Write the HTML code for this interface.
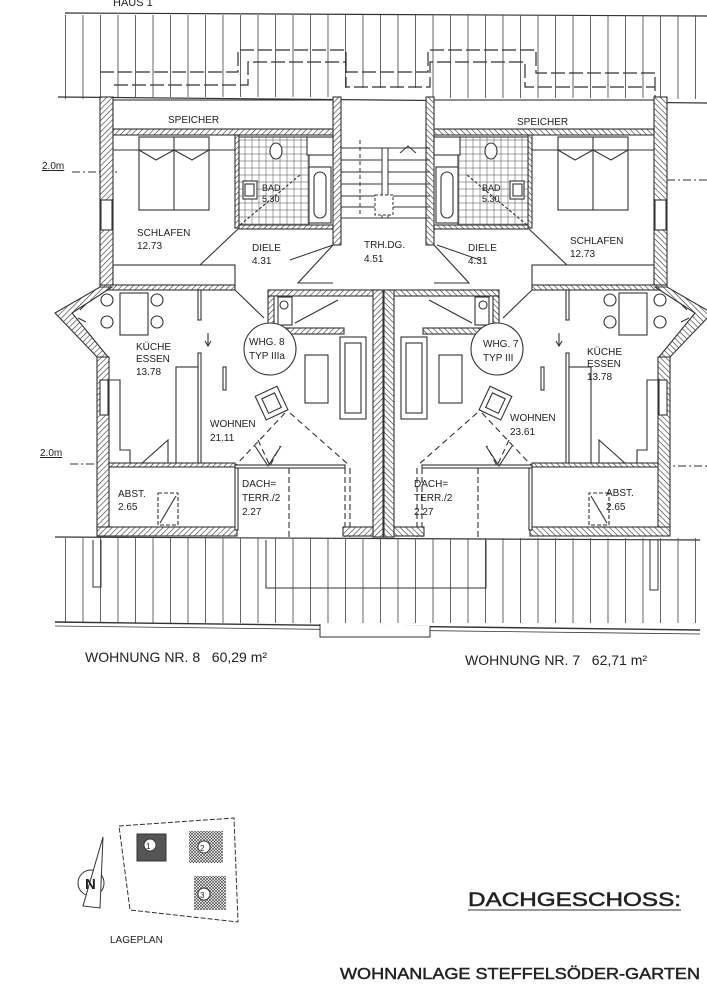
<!DOCTYPE html>
<html><head><meta charset="utf-8"><style>
html,body{margin:0;padding:0;background:#fff}
svg{display:block}
text{font-family:"Liberation Sans",sans-serif;fill:#222}
.l{font-size:10px}
</style></head><body>
<svg width="707" height="1000" viewBox="0 0 707 1000" xmlns="http://www.w3.org/2000/svg">
<defs>
<pattern id="h" width="4" height="4" patternUnits="userSpaceOnUse" patternTransform="rotate(45)"><rect width="4" height="4" fill="#fff"/><line x1="0" y1="0" x2="0" y2="4" stroke="#333" stroke-width="1.2"/></pattern>
<pattern id="v" width="17.5" height="10" patternUnits="userSpaceOnUse" x="65"><line x1="0.5" y1="0" x2="0.5" y2="10" stroke="#555" stroke-width="0.9"/></pattern>
<pattern id="g" width="7" height="7" patternUnits="userSpaceOnUse"><rect width="7" height="7" fill="#fff" stroke="#666" stroke-width="0.6"/></pattern>
<pattern id="x" width="3" height="3" patternUnits="userSpaceOnUse"><rect width="3" height="3" fill="#fff"/><path d="M0 0L3 3M3 0L0 3" stroke="#333" stroke-width="0.6"/></pattern>
</defs>
<text x="113" y="6" font-size="11">HAUS 1</text>
<line x1="65" y1="13" x2="707" y2="16" stroke="#333" stroke-width="1.2"/>
<rect x="65" y="15" width="642" height="84" fill="url(#v)"/>
<polygon points="100,97 335,97 335,88 430,88 430,98 660,98 660,140 707,140 707,150 100,150" fill="#fff"/>
<line x1="58" y1="97" x2="707" y2="103" stroke="#333" stroke-width="1.2"/>
<g fill="none" stroke="#333" stroke-width="1.2" stroke-dasharray="14,4">
<path d="M100 72H238V50H346V72H428V50H536V73H655V97"/>
<path d="M114 85H248V62H346V87H430V62H525V87H655"/>
</g>
<text x="42" y="169" class="l" font-size="9" text-decoration="underline">2.0m</text>
<line x1="72" y1="172" x2="120" y2="172" stroke="#333" stroke-dasharray="8,3,2,3"/>
<line x1="667" y1="180" x2="707" y2="180" stroke="#333" stroke-dasharray="8,3,2,3"/>
<text x="40" y="456" class="l" font-size="9" text-decoration="underline">2.0m</text>
<line x1="70" y1="464" x2="100" y2="464" stroke="#333" stroke-dasharray="8,3,2,3"/>
<line x1="662" y1="466" x2="707" y2="466" stroke="#333" stroke-dasharray="8,3,2,3"/>

<g id="U" stroke="#333" stroke-width="1.1">
<rect x="100" y="97" width="13" height="190" fill="url(#h)"/>
<rect x="113" y="129" width="222" height="6" fill="url(#h)"/>
<rect x="113" y="100" width="222" height="29" fill="#fff"/>
<rect x="333" y="97" width="8" height="148" fill="url(#h)"/>
<rect x="101" y="200" width="11" height="30" fill="#fff"/>
<rect x="235" y="135" width="4" height="93" fill="url(#h)"/>
<rect x="239" y="137" width="70" height="88" fill="url(#g)"/>
<rect x="239" y="225" width="94" height="4" fill="url(#h)"/>
<rect x="307" y="137" width="26" height="18" fill="#fff"/>
<rect x="309" y="167" width="22" height="56" fill="#fff"/>
<rect x="314" y="172" width="12" height="46" rx="6" fill="#fff"/>
<rect x="243" y="181" width="14" height="18" fill="#fff"/>
<rect x="245" y="184" width="9" height="12" fill="#fff"/>
<ellipse cx="276" cy="151" rx="6" ry="8" fill="#fff"/>
<rect x="139" y="137" width="70" height="73" fill="#fff"/>
<line x1="174" y1="137" x2="174" y2="210"/>
<path d="M139 150L156 160L174 150L192 160L209 150" fill="none"/>
<line x1="113" y1="150" x2="235" y2="150"/>
<rect x="113" y="265" width="122" height="21" fill="#fff"/>
<rect x="100" y="285" width="135" height="5" fill="url(#h)"/>
<path d="M238 229L200 265M333 245L298 283H333" fill="none"/>
<line x1="240" y1="225" x2="300" y2="175" stroke-dasharray="3,2"/>
<polygon points="100,287 112,287 72,313 108,357 97,357 55,313" fill="url(#h)"/>
<rect x="97" y="357" width="12" height="172" fill="url(#h)"/>
<rect x="100" y="380" width="8" height="35" fill="#fff"/>
<rect x="97" y="527" width="140" height="9" fill="url(#h)"/>
<rect x="120" y="293" width="28" height="42" fill="#fff"/>
<circle cx="107" cy="300" r="6" fill="#fff"/><circle cx="107" cy="322" r="6" fill="#fff"/>
<circle cx="157" cy="300" r="6" fill="#fff"/><circle cx="157" cy="322" r="6" fill="#fff"/>
<path d="M80 310l6 -6M78 318l8 4" fill="none"/>
<rect x="198" y="290" width="3" height="30" fill="#fff"/>
<rect x="198" y="353" width="3" height="113" fill="#fff"/>
<rect x="176" y="367" width="22" height="98" fill="#fff"/>
<rect x="223" y="367" width="3" height="23" fill="#fff"/>
<line x1="208" y1="333" x2="208" y2="345"/><path d="M205 341L208 346L211 341" fill="none"/>
<path d="M109 380H120V450H130V465M140 465L168 440V465" fill="none"/>
<rect x="109" y="463" width="126" height="4" fill="url(#h)"/>
<rect x="235" y="465" width="110" height="3" fill="#fff"/>
<rect x="268" y="290" width="112" height="6" fill="url(#h)"/>
<rect x="268" y="296" width="6" height="38" fill="url(#h)"/>
<rect x="274" y="328" width="70" height="6" fill="url(#h)"/>
<rect x="278" y="297" width="14" height="28" fill="#fff"/>
<circle cx="284" cy="305" r="4" fill="#fff"/>
<line x1="295" y1="323" x2="338" y2="300" />
<rect x="373" y="290" width="10" height="247" fill="url(#h)"/>
<path d="M235 290L264 318" fill="none"/>
<circle cx="270" cy="349" r="26" fill="#fff"/>
<rect x="340" y="337" width="26" height="82" fill="#fff"/>
<rect x="345" y="343" width="16" height="70" fill="#fff"/>
<rect x="305" y="355" width="23" height="48" fill="#fff"/>
<g transform="rotate(-25 272 404)"><rect x="260" y="390" width="24" height="26" fill="#fff"/><rect x="265" y="395" width="14" height="16" fill="#fff"/></g>
<path d="M290 413L350 466M285 413L235 466M258 440L270 466L280 446" fill="none" stroke-dasharray="6,4"/>
<path d="M255 446L268 466L281 446" fill="none"/>
<rect x="158" y="493" width="20" height="32" fill="none" stroke-dasharray="4,2"/>
<line x1="160" y1="523" x2="176" y2="496"/>
<rect x="235" y="468" width="3" height="62" fill="#fff"/>
<line x1="289" y1="468" x2="289" y2="537" stroke-dasharray="6,3"/>
<line x1="345" y1="468" x2="345" y2="537" stroke-dasharray="6,3"/>
<line x1="350" y1="468" x2="350" y2="537" stroke-dasharray="6,3"/>
<rect x="343" y="527" width="30" height="9" fill="url(#h)"/>
</g>
<use href="#U" transform="translate(767,0) scale(-1,1)"/>
<g stroke="#333" stroke-width="1">
<line x1="341" y1="148" x2="430" y2="148"/><line x1="341" y1="160" x2="430" y2="160"/>
<line x1="341" y1="172" x2="430" y2="172"/><line x1="341" y1="184" x2="430" y2="184"/>
<line x1="341" y1="196" x2="430" y2="196"/><line x1="341" y1="207" x2="430" y2="207"/>
<line x1="341" y1="218" x2="430" y2="218"/>
<rect x="382" y="148" width="6" height="70" fill="#fff"/>
<rect x="375" y="195" width="18" height="20" fill="#fff" stroke-dasharray="3,2"/>
<line x1="360" y1="140" x2="360" y2="215" stroke-dasharray="4,3"/>
<path d="M400 153L408 146L416 153" fill="none"/>
<line x1="290" y1="260" x2="333" y2="245"/>
<line x1="480" y1="260" x2="437" y2="245"/>
</g>
<line x1="55" y1="537" x2="700" y2="540" stroke="#333" stroke-width="1.2"/>
<rect x="55" y="538" width="645" height="85" fill="url(#v)"/>
<line x1="55" y1="622" x2="700" y2="630" stroke="#333" stroke-width="1.4"/>
<line x1="55" y1="626" x2="700" y2="634" stroke="#333" stroke-width="0.8"/>
<path d="M320 624V637H430V626" fill="#fff" stroke="#333"/>
<path d="M266 540V588H486V540" fill="none" stroke="#333"/>
<path d="M93 540V587H101V540M650 540V590H658V540" fill="none" stroke="#333"/>
<g class="l">
<text x="168" y="123">SPEICHER</text><text x="517" y="125">SPEICHER</text>
<text x="137" y="236">SCHLAFEN</text><text x="137" y="249">12.73</text>
<text x="570" y="244">SCHLAFEN</text><text x="570" y="257">12.73</text>
<text x="262" y="191" font-size="9">BAD</text><text x="262" y="202" font-size="9">5.30</text>
<text x="482" y="191" font-size="9">BAD</text><text x="482" y="202" font-size="9">5.30</text>
<text x="252" y="251">DIELE</text><text x="252" y="264">4.31</text>
<text x="468" y="251">DIELE</text><text x="468" y="264">4.31</text>
<text x="364" y="248">TRH.DG.</text><text x="364" y="262">4.51</text>
<text x="136" y="350">KÜCHE</text><text x="136" y="362">ESSEN</text><text x="136" y="375">13.78</text>
<text x="587" y="355">KÜCHE</text><text x="587" y="367">ESSEN</text><text x="587" y="380">13.78</text>
<text x="249" y="345">WHG. 8</text><text x="249" y="359">TYP IIIa</text>
<text x="483" y="347">WHG. 7</text><text x="483" y="361">TYP III</text>
<text x="210" y="427">WOHNEN</text><text x="210" y="441">21.11</text>
<text x="510" y="421">WOHNEN</text><text x="510" y="435">23.61</text>
<text x="118" y="497">ABST.</text><text x="118" y="510">2.65</text>
<text x="606" y="496">ABST.</text><text x="606" y="510">2.65</text>
<text x="242" y="487">DACH=</text><text x="242" y="501">TERR./2</text><text x="242" y="515">2.27</text>
<text x="414" y="487">DACH=</text><text x="414" y="501">TERR./2</text><text x="414" y="515">2.27</text>
</g>
<text x="85" y="662" font-size="14">WOHNUNG NR. 8 &#160;&#160;60,29 m²</text>
<text x="465" y="665" font-size="14">WOHNUNG NR. 7 &#160;&#160;62,71 m²</text>
<g stroke="#333" fill="none">
<path d="M119 826L234 818L238 922L130 910Z" stroke-dasharray="5,2"/>
<rect x="137" y="834" width="29" height="27" fill="#555"/>
<circle cx="150" cy="845" r="6" fill="#fff"/>
<rect x="189" y="831" width="34" height="32" fill="url(#x)" stroke="none"/>
<circle cx="204" cy="847" r="6" fill="#fff"/>
<rect x="194" y="876" width="32" height="34" fill="url(#x)" stroke="none"/>
<circle cx="204" cy="894" r="6" fill="#fff"/>
<circle cx="91" cy="883" r="13"/>
<path d="M83 906L103 837L100 908Z" fill="#fff"/>
</g>
<text x="146" y="849" font-size="8">1</text><text x="200" y="851" font-size="8">2</text><text x="200" y="898" font-size="8">3</text>
<text x="85" y="889" font-size="15" font-weight="bold">N</text>
<text x="110" y="943" font-size="10">LAGEPLAN</text>
<text x="468" y="906" font-size="19" fill="#fff" stroke="#222" stroke-width="0.5" textLength="213" lengthAdjust="spacingAndGlyphs">DACHGESCHOSS:</text>
<line x1="468" y1="910" x2="681" y2="910" stroke="#333"/>
<text x="340" y="979" font-size="16" fill="#fff" stroke="#222" stroke-width="0.45" textLength="360" lengthAdjust="spacingAndGlyphs">WOHNANLAGE  STEFFELSÖDER-GARTEN</text>
</svg>
</body></html>
